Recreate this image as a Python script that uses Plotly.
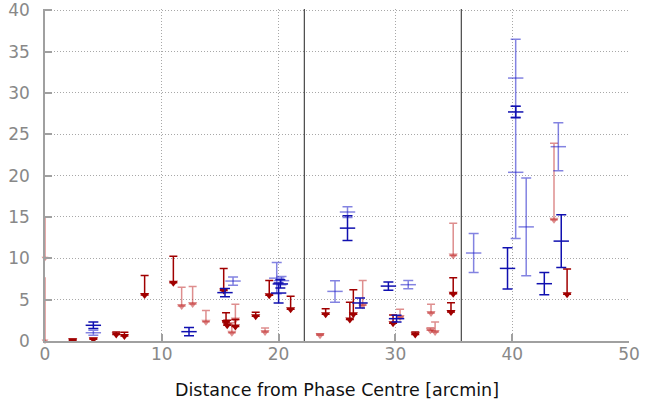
import plotly.graph_objects as go

# ---- data ----
# red upper limits: value (arrow) and upper cap
red_dark_x  = [2.37, 4.14, 6.1, 6.8, 8.53, 10.99, 15.3, 15.5, 15.6, 16.3, 18.04, 19.2, 21.03, 24.03, 26.1, 26.4, 29.8, 31.7, 34.76, 34.95, 44.7]
red_dark_y  = [0.1, 0.2, 0.8, 0.6, 5.56, 7.05, 6.12, 2.3, 1.9, 1.75, 2.98, 5.52, 3.83, 3.22, 2.6, 3.25, 2.15, 0.8, 3.5, 5.72, 5.64]
red_dark_hi = [0.2, 0.3, 1.1, 1.05, 7.93, 10.26, 8.78, 3.43, 2.5, 2.6, 3.47, 7.33, 5.4, 3.91, 4.7, 6.2, 3.15, 1.09, 4.64, 7.65, 8.7]

red_light_x  = [11.7, 12.64, 13.78, 16.0, 16.3, 18.84, 23.55, 27.2, 30.4, 33.05, 33.0, 33.4, 34.95, 43.58]
red_light_y  = [4.23, 4.47, 2.34, 1.0, 2.6, 1.09, 0.69, 4.31, 2.9, 3.38, 1.29, 1.09, 10.35, 14.66]
red_light_hi = [6.49, 6.6, 3.7, 2.2, 4.43, 1.57, 0.89, 7.33, 3.83, 4.43, 1.6, 2.3, 14.25, 23.9]

# red bars lying on the y axis
red_axis_x  = [0, 0]
red_axis_y  = [0, 10.0]
red_axis_hi = [7.7, 15.05]

# blue detections: value and symmetric error
blue_dark_x   = [4.14, 12.33, 15.41, 20.15, 20.0, 25.9, 26.97, 29.4, 30.1, 39.6, 40.3, 42.75, 44.2]
blue_dark_y   = [1.9, 1.13, 5.85, 6.9, 5.8, 13.65, 4.6, 6.64, 2.7, 8.78, 27.7, 6.93, 12.08]
blue_dark_err = [0.4, 0.5, 0.5, 0.5, 1.2, 1.5, 0.6, 0.5, 0.4, 2.5, 0.7, 1.35, 3.2]

blue_light_x   = [4.14, 16.1, 19.84, 20.25, 24.83, 25.9, 31.1, 36.7, 40.3, 40.3, 41.2, 43.95]
blue_light_y   = [1.0, 7.25, 7.6, 7.3, 6.0, 15.6, 6.81, 10.64, 31.8, 20.4, 13.8, 23.5]
blue_light_err = [0.3, 0.5, 1.9, 0.5, 1.3, 0.65, 0.5, 2.37, 4.7, 8.0, 5.9, 2.9]

boundaries = [22.2, 35.64]
x_ticks = [0, 10, 20, 30, 40, 50]
y_ticks = [0, 5, 10, 15, 20, 25, 30, 35, 40]

DARK_RED = "#a00000"
LIGHT_RED = "rgba(190,30,30,0.5)"
DARK_BLUE = "#1010b0"
LIGHT_BLUE = "rgba(30,30,200,0.55)"

fig = go.Figure()


def add_red(xs, ys, his, color, msize=8, show_marker=True, capw=4):
    plus = [h - y for y, h in zip(ys, his)]
    fig.add_trace(go.Scatter(
        x=xs, y=ys, mode="markers",
        marker=dict(symbol="triangle-down", size=msize if show_marker else 0, color=color,
                    line=dict(width=0)),
        error_y=dict(type="data", symmetric=False, array=plus,
                     arrayminus=[0] * len(ys), color=color, thickness=1.5, width=capw),
        showlegend=False, hoverinfo="skip",
        cliponaxis=False if not show_marker else True))


def add_blue(xs, ys, errs, color):
    fig.add_trace(go.Scatter(
        x=xs, y=ys, mode="markers",
        marker=dict(symbol="line-ew", size=11, color=color,
                    line=dict(width=1.5, color=color)),
        error_y=dict(type="data", array=errs, color=color, thickness=1.5, width=5),
        showlegend=False, hoverinfo="skip"))


add_red(red_axis_x, red_axis_y, red_axis_hi, LIGHT_RED, show_marker=False, capw=0)
add_red(red_light_x, red_light_y, red_light_hi, LIGHT_RED)
add_blue(blue_light_x, blue_light_y, blue_light_err, LIGHT_BLUE)
add_red(red_dark_x, red_dark_y, red_dark_hi, DARK_RED)
add_blue(blue_dark_x, blue_dark_y, blue_dark_err, DARK_BLUE)

for b in boundaries:
    fig.add_vline(x=b, line=dict(color="#222222", width=1))

axis_common = dict(
    showline=True, linecolor="#a0a0a0", linewidth=1.5,
    ticks="inside", ticklen=7, tickcolor="#a0a0a0", tickwidth=1.5,
    showgrid=True, gridcolor="#a8a8a8", griddash="1px,2px", gridwidth=1,
    zeroline=False, mirror=False, automargin=False,
    ticklabeloverflow="allow",
    tickfont=dict(family="DejaVu Sans", size=17, color="#888888"),
)

fig.update_xaxes(range=[0, 50.001], tickvals=x_ticks, ticklabelstandoff=-3, **axis_common,
                 title=dict(text="Distance from Phase Centre [arcmin]",
                            font=dict(family="DejaVu Sans", size=17.5, color="#111111"),
                            standoff=21))
fig.update_yaxes(range=[0, 40.15], tickvals=y_ticks, ticklabelstandoff=10, **axis_common)

fig.update_layout(
    width=659, height=408,
    margin=dict(l=45, r=30, t=9, b=67),
    plot_bgcolor="white", paper_bgcolor="white",
    hovermode=False,
)

fig.write_html("out.html", config={"displayModeBar": False},
               post_script="document.body.style.margin='0px';")
